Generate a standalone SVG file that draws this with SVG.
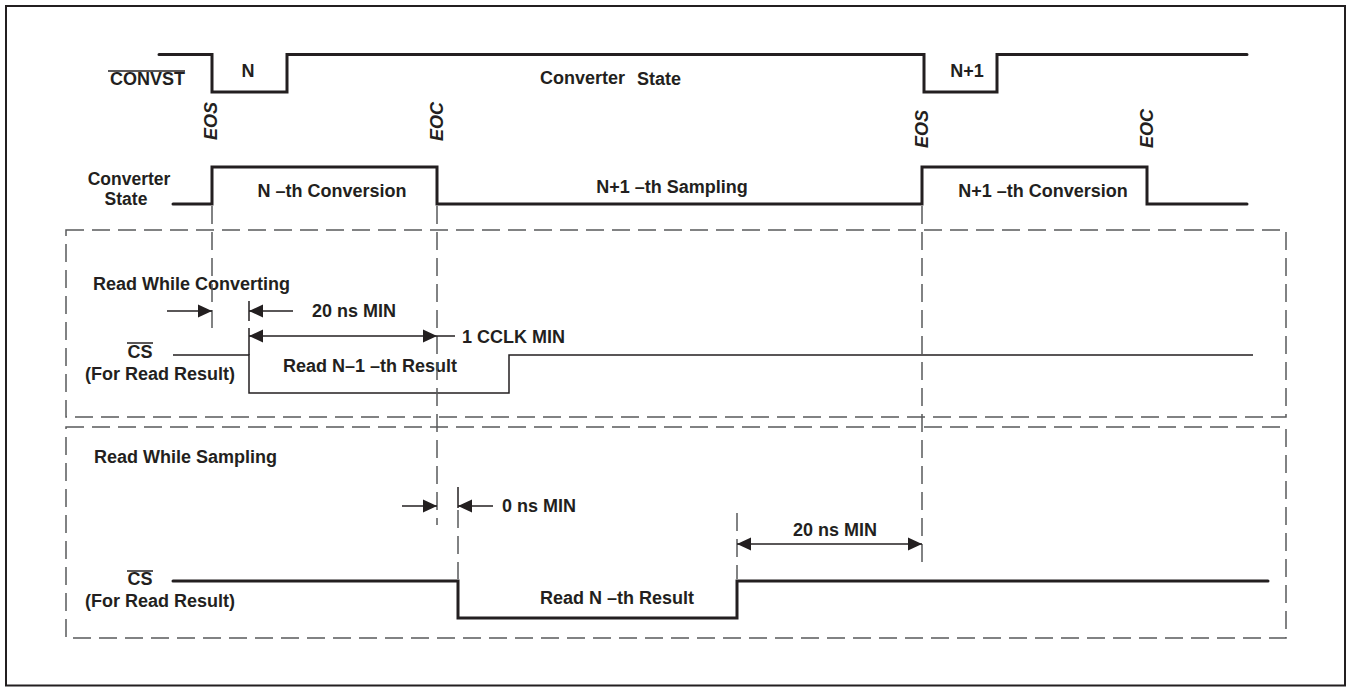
<svg xmlns="http://www.w3.org/2000/svg" width="1353" height="687" viewBox="0 0 1353 687">
<style>
text{font-family:"Liberation Sans",Arial,Helvetica,sans-serif;font-weight:bold;font-size:18px;fill:#231f20}
.it{font-style:italic}
.mid{text-anchor:middle}
.end{text-anchor:end}
.sm{font-size:17.5px}
.wave{fill:none;stroke:#231f20;stroke-width:3;stroke-linejoin:miter;stroke-linecap:round}
.thin{fill:none;stroke:#231f20;stroke-width:1.5}
.dash{fill:none;stroke:#58595b;stroke-width:1.5;stroke-dasharray:18 8}
.dim{fill:none;stroke:#231f20;stroke-width:1.5}
.ol{stroke:#231f20;stroke-width:1.5}
</style>
<defs>
<marker id="ah" viewBox="0 0 14 14" refX="14" refY="7" markerWidth="14" markerHeight="14" markerUnits="userSpaceOnUse" orient="auto-start-reverse">
<path d="M0,0.5 L14,7 L0,13.5 z" fill="#231f20"/>
</marker>
</defs>
<rect x="0" y="0" width="1353" height="687" fill="#fff"/>
<rect x="6" y="6" width="1339" height="679.5" fill="none" stroke="#231f20" stroke-width="2"/>

<g id="boxes">
<rect class="dash" x="66" y="230" width="1220" height="187"/>
<rect class="dash" x="66" y="427" width="1220" height="211"/>
</g>

<g id="convst">
<path class="wave" d="M159,54.5 H212 V92 H287 V54.5 H924 V92 H997 V54.5 H1247"/>
<text class="end" x="185" y="85">CONVST</text>
<line class="ol" x1="108" y1="71" x2="185" y2="71"/>
<text class="mid" x="248" y="77">N</text>
<text class="mid" x="967" y="77">N+1</text>
<text x="540" y="84">Converter</text>
<text x="637" y="85">State</text>
</g>

<g id="converter-state">
<path class="wave" d="M173,204 H212 V167 H437 V204 H922 V167 H1147 V204 H1247"/>
<text class="mid sm" x="129" y="185">Converter</text>
<text class="mid sm" x="126" y="205">State</text>
<text class="mid" x="332" y="197">N –th Conversion</text>
<text class="mid" x="672" y="193">N+1 –th Sampling</text>
<text class="mid" x="1043" y="197">N+1 –th Conversion</text>
</g>

<g id="events">
<text class="it" transform="translate(217,140) rotate(-90)">EOS</text>
<text class="it" transform="translate(443,141) rotate(-90)">EOC</text>
<text class="it" transform="translate(928,148) rotate(-90)">EOS</text>
<text class="it" transform="translate(1153,148) rotate(-90)">EOC</text>
</g>

<g id="read-while-converting">
<text x="93" y="290">Read While Converting</text>
<text class="mid" x="140" y="358">CS</text>
<line class="ol" x1="127" y1="343" x2="153" y2="343"/>
<text class="mid" x="160" y="380">(For Read Result)</text>
<path class="thin" d="M173,355 H249 V393 H509 V355 H1253"/>
<text class="mid" x="370" y="372">Read N–1 –th Result</text>
<text x="312" y="317">20 ns MIN</text>
<text x="462" y="343">1 CCLK MIN</text>
</g>

<g id="read-while-sampling">
<text x="94" y="463">Read While Sampling</text>
<text class="mid" x="140" y="585">CS</text>
<line class="ol" x1="127" y1="571" x2="153" y2="571"/>
<text class="mid" x="160" y="607">(For Read Result)</text>
<path class="wave" d="M173,581 H458 V618 H737 V581 H1268"/>
<text class="mid" x="617" y="604">Read N –th Result</text>
<text x="502" y="512">0 ns MIN</text>
<text class="mid" x="835" y="536">20 ns MIN</text>
</g>

<g id="connectors">
<path class="dash" d="M212,206 V333"/>
<path class="dash" d="M437,206 V525"/>
<path class="dash" d="M922,206 V564"/>
<path class="dash" d="M458,510 V579"/>
<path class="dash" d="M737,513 V579"/>
<path class="dim" d="M249,301 V321 M249,328 V355"/>
<path class="dim" d="M458,487 V508"/>
<path class="dim" d="M167,311 H212" marker-end="url(#ah)"/>
<path class="dim" d="M293,311 H249" marker-end="url(#ah)"/>
<path class="dim" d="M249,336 H437" marker-start="url(#ah)" marker-end="url(#ah)"/>
<path class="dim" d="M437,336 H455"/>
<path class="dim" d="M402,506 H437" marker-end="url(#ah)"/>
<path class="dim" d="M493,506 H458" marker-end="url(#ah)"/>
<path class="dim" d="M737,544 H922" marker-start="url(#ah)" marker-end="url(#ah)"/>
</g>
</svg>
